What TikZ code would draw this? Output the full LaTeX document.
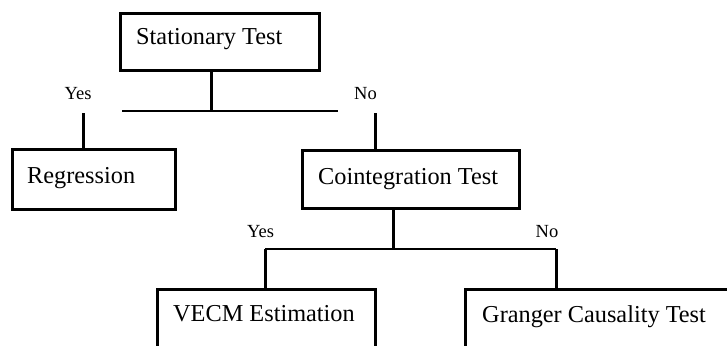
\documentclass[tikz,border=0pt]{standalone}
\usepackage{fontspec}
\setmainfont{Liberation Serif}
\begin{document}
\begin{tikzpicture}[x=1pt,y=-1pt,
  box/.style={draw, line width=3pt, inner sep=0pt},
  boxtext/.style={anchor=base west, inner sep=0pt, font=\fontsize{24.3}{28}\selectfont},
  lab/.style={anchor=base, inner sep=0pt, font=\fontsize{18.5}{22}\selectfont},
  conn/.style={line width=3pt},
  hline/.style={line width=1.5pt}]
\useasboundingbox (0,0) rectangle (727,345);
\clip (0,0) rectangle (727,345);
% boxes
\node[box, minimum width=199pt, minimum height=57pt] (stat) at (220,42) {};
\node[box, minimum width=163pt, minimum height=60pt] (reg) at (93.5,179) {};
\node[box, minimum width=217pt, minimum height=58pt] (coint) at (410.5,179) {};
\node[box, minimum width=218pt, minimum height=100pt] (vecm) at (266,339) {};
\node[box, minimum width=300pt, minimum height=100pt] (granger) at (615,339) {};
% texts
\node[boxtext] (tstat) at (136,45) {Stationary Test};
\node[boxtext] (treg) at (27,183) {Regression};
\node[boxtext] (tcoint) at (318,184) {Cointegration Test};
\node[boxtext] (tvecm) at (173,321) {VECM Estimation};
\node[boxtext] (tgranger) at (482,322) {Granger Causality Test};
% labels
\node[lab] (yes1) at (78,99) {Yes};
\node[lab] (no1) at (365.5,99) {No};
\node[lab] (yes2) at (260.5,237) {Yes};
\node[lab] (no2) at (547,237) {No};
% top connectors
\coordinate (t1) at (211,111);
\draw[conn] (stat.south -| t1) -- (t1);
\coordinate (hl) at (122,111);
\coordinate (hr) at (338,111);
\draw[hline] (hl) -- (hr);
\coordinate (ytop) at (83,113);
\draw[conn] (ytop) -- (ytop |- reg.north);
\coordinate (ntop) at (375,113);
\draw[conn] (ntop) -- (ntop |- coint.north);
% bottom connectors
\coordinate (b1) at (393,249);
\draw[conn] (coint.south -| b1) -- (b1);
\coordinate (bl) at (265,249);
\coordinate (br) at (556,249);
\draw[hline] (bl) -- (br);
\draw[conn] (bl) -- (bl |- vecm.north);
\draw[conn] (br) -- (br |- granger.north);
\end{tikzpicture}
\end{document}
